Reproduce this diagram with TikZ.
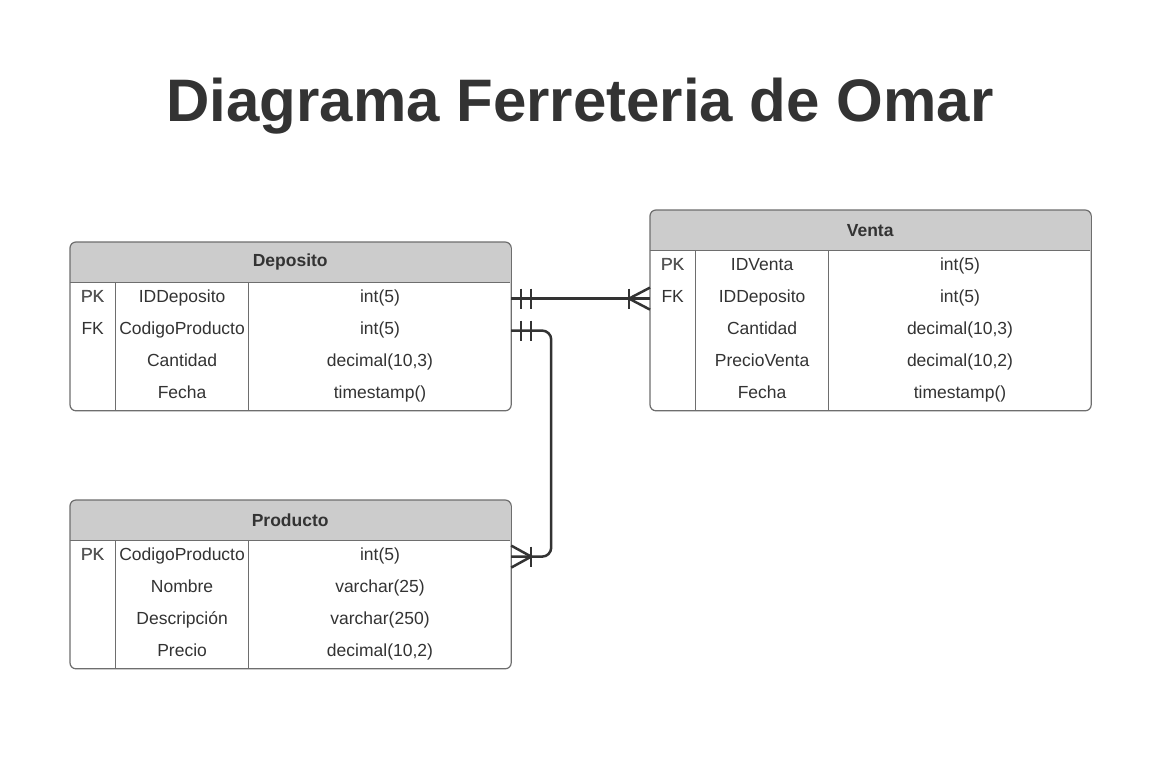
\documentclass[tikz,border=0pt]{standalone}
\usepackage{fontspec}
\setmainfont{Liberation Sans}
\usepackage{xcolor}
\definecolor{cText}{HTML}{333333}
\definecolor{cHead}{HTML}{CCCCCC}
\definecolor{cFrame}{HTML}{6E6E6E}
\definecolor{cLine}{HTML}{333333}
\definecolor{cKey}{HTML}{555555}
\usepackage{tikz}
\usetikzlibrary{positioning,calc}
\tikzset{
  tbl-head/.style={minimum width=440pt,minimum height=40pt,inner sep=0pt,
    font=\bfseries\fontsize{17.5}{20}\selectfont,text=cText},
  cell/.style={minimum height=32pt,inner sep=0pt,text height=12pt,text depth=4.5pt,
    font=\fontsize{17.5}{20}\selectfont,text=cText},
  cell-key/.style={cell,minimum width=45pt},
  cell-name/.style={cell,minimum width=133pt},
  cell-type/.style={cell,minimum width=262pt},
  tbl-frame/.style={draw=cFrame,line width=1.2pt,rounded corners=6pt},
  tbl-rule/.style={draw=cFrame,line width=1.2pt},
  rel/.style={draw=cLine,line width=2.5pt},
}

\begin{document}
\begin{tikzpicture}[x=1pt,y=-1pt]
  \useasboundingbox[fill=white] (0,0) rectangle (1160,764);

  \node[font=\bfseries\fontsize{60}{66}\selectfont,text=cText,anchor=base]
    (title) at (580,121) {Diagrama Ferreteria de Omar};

  % Deposito
  \node[tbl-head,anchor=north west] (dep) at (70,242) {};
  \foreach \i/\k/\n/\t in {1/PK/IDDeposito/int(5), 2/FK/CodigoProducto/int(5),
      3//Cantidad/{decimal(10,3)}, 4//Fecha/timestamp()} {
    \pgfmathsetmacro\off{32*(\i-1)}
    \node[cell-key,anchor=north west] (dep-k\i) at ([yshift=-\off pt]dep.south west) {\k};
    \node[cell-name,anchor=west] (dep-n\i) at (dep-k\i.east) {\n};
    \node[cell-type,anchor=west] (dep-t\i) at (dep-n\i.east) {\t};
  }

  % Venta
  \node[tbl-head,anchor=north west] (ven) at (650,210) {};
  \foreach \i/\k/\n/\t in {1/PK/IDVenta/int(5), 2/FK/IDDeposito/int(5),
      3//Cantidad/{decimal(10,3)}, 4//PrecioVenta/{decimal(10,2)}, 5//Fecha/timestamp()} {
    \pgfmathsetmacro\off{32*(\i-1)}
    \node[cell-key,anchor=north west] (ven-k\i) at ([yshift=-\off pt]ven.south west) {\k};
    \node[cell-name,anchor=west] (ven-n\i) at (ven-k\i.east) {\n};
    \node[cell-type,anchor=west] (ven-t\i) at (ven-n\i.east) {\t};
  }

  % Producto
  \node[tbl-head,anchor=north west] (pro) at (70,500) {};
  \foreach \i/\k/\n/\t in {1/PK/CodigoProducto/int(5), 2//Nombre/varchar(25),
      3//Descripción/varchar(250), 4//Precio/{decimal(10,2)}} {
    \pgfmathsetmacro\off{32*(\i-1)}
    \node[cell-key,anchor=north west] (pro-k\i) at ([yshift=-\off pt]pro.south west) {\k};
    \node[cell-name,anchor=west] (pro-n\i) at (pro-k\i.east) {\n};
    \node[cell-type,anchor=west] (pro-t\i) at (pro-n\i.east) {\t};
  }

  % table frames, headers and rules
  \foreach \tb/\title/\last in {dep/Deposito/4, ven/Venta/5, pro/Producto/4} {
    \begin{scope}
      \clip[rounded corners=6pt] (\tb.north west) rectangle (\tb-t\last.south east);
      \fill[cHead] (\tb.north west) rectangle (\tb.south east);
    \end{scope}
    \node[tbl-head] at (\tb) {\title};
    \draw[tbl-rule] (\tb.south west) -- (\tb.south east);
    \draw[tbl-rule] (\tb-k1.north east) -- (\tb-k\last.south east);
    \draw[tbl-rule] (\tb-n1.north east) -- (\tb-n\last.south east);
    \draw[tbl-frame] (\tb.north west) rectangle (\tb-t\last.south east);
  }
  \node[cell-key,text=cKey] at (dep-k1) {PK};
  \node[cell-key,text=cKey] at (ven-k1) {PK};
  \node[cell-key,text=cKey] at (pro-k1) {PK};

  % Deposito -- Venta
  \draw[rel] (dep-t1.east) -- (ven-k2.west);
  \draw[rel] ([xshift=10pt]dep-t1.east) ++(0,-10) -- ++(0,20);
  \draw[rel] ([xshift=20pt]dep-t1.east) ++(0,-10) -- ++(0,20);
  \draw[rel] (ven-k2.west) ++(0,-11) -- ++(-21,11) -- ++(21,11);
  \draw[rel] ([xshift=-21pt]ven-k2.west) ++(0,-10) -- ++(0,20);

  % Deposito -- Producto
  \draw[rel,rounded corners=9pt] (dep-t2.east) -- ++(40,0) |- (pro-t1.east);
  \draw[rel] ([xshift=10pt]dep-t2.east) ++(0,-10) -- ++(0,20);
  \draw[rel] ([xshift=20pt]dep-t2.east) ++(0,-10) -- ++(0,20);
  \draw[rel] (pro-t1.east) ++(0,-11) -- ++(20,11) -- ++(-20,11);
  \draw[rel] ([xshift=20pt]pro-t1.east) ++(0,-10) -- ++(0,20);
\end{tikzpicture}
\end{document}
